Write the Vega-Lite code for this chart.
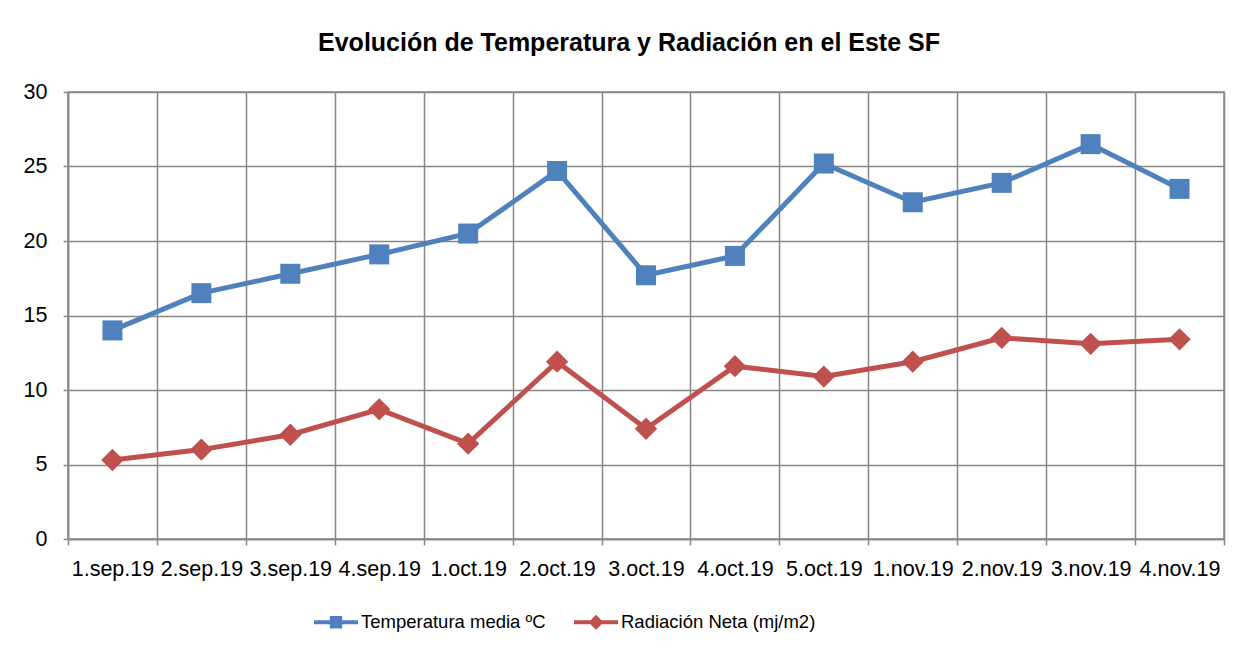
{
  "$schema": "https://vega.github.io/schema/vega-lite/v6.json",
  "autosize": {"type": "none"},
  "width": 1156,
  "height": 447,
  "padding": {"left": 68, "top": 92, "right": 30, "bottom": 123},
  "background": "white",
  "title": {
    "text": "Evolución de Temperatura y Radiación en el Este SF",
    "font": "Liberation Sans",
    "fontSize": 25,
    "fontWeight": "bold",
    "color": "#000000",
    "dx": -17,
    "offset": 25
  },
  "config": {
    "view": {"stroke": "#878787", "strokeWidth": 1.5},
    "font": "Liberation Sans"
  },
  "data": {
    "values": [
      {"fecha": "1.sep.19", "serie": "Temperatura media ºC", "valor": 14.0},
      {"fecha": "2.sep.19", "serie": "Temperatura media ºC", "valor": 16.5},
      {"fecha": "3.sep.19", "serie": "Temperatura media ºC", "valor": 17.8},
      {"fecha": "4.sep.19", "serie": "Temperatura media ºC", "valor": 19.1},
      {"fecha": "1.oct.19", "serie": "Temperatura media ºC", "valor": 20.5},
      {"fecha": "2.oct.19", "serie": "Temperatura media ºC", "valor": 24.7},
      {"fecha": "3.oct.19", "serie": "Temperatura media ºC", "valor": 17.7},
      {"fecha": "4.oct.19", "serie": "Temperatura media ºC", "valor": 19.0},
      {"fecha": "5.oct.19", "serie": "Temperatura media ºC", "valor": 25.2},
      {"fecha": "1.nov.19", "serie": "Temperatura media ºC", "valor": 22.6},
      {"fecha": "2.nov.19", "serie": "Temperatura media ºC", "valor": 23.9},
      {"fecha": "3.nov.19", "serie": "Temperatura media ºC", "valor": 26.5},
      {"fecha": "4.nov.19", "serie": "Temperatura media ºC", "valor": 23.5},
      {"fecha": "1.sep.19", "serie": "Radiación Neta (mj/m2)", "valor": 5.3},
      {"fecha": "2.sep.19", "serie": "Radiación Neta (mj/m2)", "valor": 6.0},
      {"fecha": "3.sep.19", "serie": "Radiación Neta (mj/m2)", "valor": 7.0},
      {"fecha": "4.sep.19", "serie": "Radiación Neta (mj/m2)", "valor": 8.7},
      {"fecha": "1.oct.19", "serie": "Radiación Neta (mj/m2)", "valor": 6.4},
      {"fecha": "2.oct.19", "serie": "Radiación Neta (mj/m2)", "valor": 11.9},
      {"fecha": "3.oct.19", "serie": "Radiación Neta (mj/m2)", "valor": 7.4},
      {"fecha": "4.oct.19", "serie": "Radiación Neta (mj/m2)", "valor": 11.6},
      {"fecha": "5.oct.19", "serie": "Radiación Neta (mj/m2)", "valor": 10.9},
      {"fecha": "1.nov.19", "serie": "Radiación Neta (mj/m2)", "valor": 11.9},
      {"fecha": "2.nov.19", "serie": "Radiación Neta (mj/m2)", "valor": 13.5},
      {"fecha": "3.nov.19", "serie": "Radiación Neta (mj/m2)", "valor": 13.1},
      {"fecha": "4.nov.19", "serie": "Radiación Neta (mj/m2)", "valor": 13.4}
    ]
  },
  "encoding": {
    "x": {
      "field": "fecha",
      "type": "nominal",
      "sort": null,
      "scale": {"paddingInner": 0, "paddingOuter": 0},
      "axis": {
        "title": null,
        "labelAngle": 0,
        "tickBand": "extent",
        "grid": true,
        "gridColor": "#878787",
        "gridWidth": 1.5,
        "tickColor": "#878787",
        "tickWidth": 1.5,
        "tickSize": 6,
        "domainColor": "#878787",
        "domainWidth": 1.5,
        "labelFont": "Liberation Sans",
        "labelFontSize": 21.5,
        "labelColor": "#000000",
        "labelPadding": 13,
        "labelOverlap": false,
        "labelLimit": 0
      }
    },
    "y": {
      "field": "valor",
      "type": "quantitative",
      "scale": {"domain": [0, 30], "nice": false},
      "axis": {
        "title": null,
        "values": [0, 5, 10, 15, 20, 25, 30],
        "grid": true,
        "gridColor": "#878787",
        "gridWidth": 1.5,
        "tickColor": "#878787",
        "tickWidth": 1.5,
        "tickSize": 5,
        "domainColor": "#878787",
        "domainWidth": 1.5,
        "labelFont": "Liberation Sans",
        "labelFontSize": 21.5,
        "labelColor": "#000000",
        "labelPadding": 16
      }
    },
    "color": {
      "field": "serie",
      "type": "nominal",
      "sort": null,
      "scale": {
        "domain": ["Temperatura media ºC", "Radiación Neta (mj/m2)"],
        "range": ["#4F81BD", "#C0504D"]
      },
      "legend": {
        "title": null,
        "orient": "none",
        "direction": "horizontal",
        "legendX": 246,
        "legendY": 508,
        "columnPadding": 28,
        "labelOffset": 3,
        "labelLimit": 0,
        "labelFont": "Liberation Sans",
        "labelFontSize": 18.5,
        "labelColor": "#000000",
        "symbolSize": 1936,
        "encode": {
          "symbols": {
            "update": {
              "shape": {"signal": "datum.value === 'Temperatura media ºC' ? 'M-1,-0.09L1,-0.09L1,0.09L-1,0.09Z M-0.28,-0.28L0.28,-0.28L0.28,0.28L-0.28,0.28Z' : 'M-1,-0.09L1,-0.09L1,0.09L-1,0.09Z M0,-0.34L0.34,0L0,0.34L-0.34,0Z'"},
              "fill": {"signal": "datum.value === 'Temperatura media ºC' ? '#4F81BD' : '#C0504D'"},
              "fillOpacity": {"value": 1},
              "size": {"value": 1936},
              "strokeWidth": {"value": 0}
            }
          }
        }
      }
    }
  },
  "layer": [
    {
      "mark": {"type": "line", "strokeWidth": 5}
    },
    {
      "transform": [{"filter": "datum.serie === 'Temperatura media ºC'"}],
      "mark": {"type": "point", "shape": "square", "size": 400, "filled": true, "opacity": 1, "strokeWidth": 0}
    },
    {
      "transform": [{"filter": "datum.serie === 'Radiación Neta (mj/m2)'"}],
      "mark": {"type": "point", "shape": "diamond", "size": 500, "filled": true, "opacity": 1, "strokeWidth": 0}
    }
  ]
}
